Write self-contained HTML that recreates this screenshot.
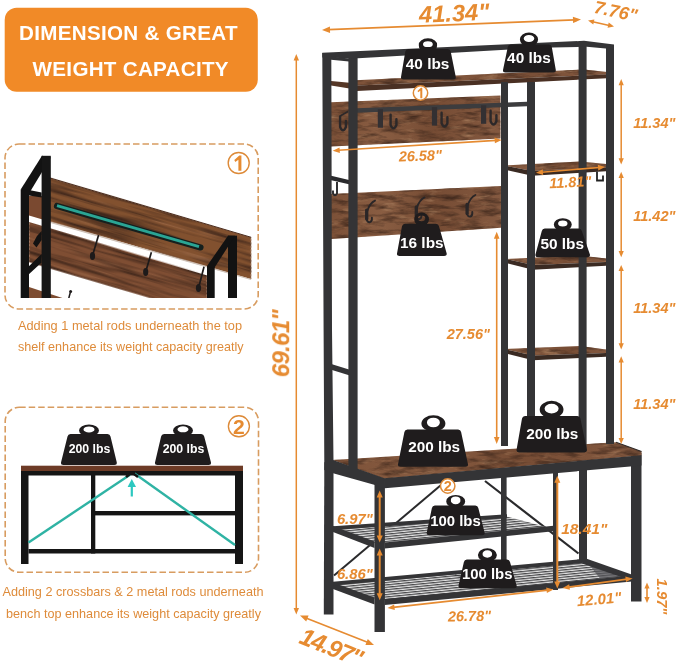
<!DOCTYPE html>
<html><head><meta charset="utf-8"><title>Dimension &amp; Great Weight Capacity</title>
<style>
html,body{margin:0;padding:0;background:#fff;}
body{width:679px;height:663px;overflow:hidden;font-family:"Liberation Sans",sans-serif;}
svg{display:block;}
svg text{font-family:"Liberation Sans",sans-serif;}
</style></head><body>
<svg width="679" height="663" viewBox="0 0 679 663">
<rect width="679" height="663" fill="#fff"/>
<g opacity="0.999">
<defs>
<filter id="grain" x="0" y="0" width="100%" height="100%" color-interpolation-filters="sRGB">
  <feTurbulence type="fractalNoise" baseFrequency="0.05 0.2" numOctaves="4" seed="7" result="n"/>
  <feColorMatrix in="n" type="matrix" values="0 0 0 0 0  0 0 0 0 0  0 0 0 0 0  2.3 0 0 0 -0.98" result="a"/>
  <feComposite in="a" in2="SourceGraphic" operator="in" result="g"/>
  <feFlood flood-color="#452c1f" result="f"/>
  <feComposite in="f" in2="g" operator="in" result="dk"/>
  <feColorMatrix in="n" type="matrix" values="0 0 0 0 0  0 0 0 0 0  0 0 0 0 0  0 -2.4 0 0 1.0" result="a2"/>
  <feComposite in="a2" in2="SourceGraphic" operator="in" result="g2"/>
  <feFlood flood-color="#a9805f" result="f2"/>
  <feComposite in="f2" in2="g2" operator="in" result="lt"/>
  <feMerge><feMergeNode in="SourceGraphic"/><feMergeNode in="lt"/><feMergeNode in="dk"/></feMerge>
</filter>
<filter id="grain2" x="0" y="0" width="100%" height="100%" color-interpolation-filters="sRGB">
  <feTurbulence type="fractalNoise" baseFrequency="0.012 0.22" numOctaves="3" seed="11" result="n"/>
  <feColorMatrix in="n" type="matrix" values="0 0 0 0 0  0 0 0 0 0  0 0 0 0 0  2.4 0 0 0 -1.0" result="a"/>
  <feComposite in="a" in2="SourceGraphic" operator="in" result="g"/>
  <feFlood flood-color="#40271b" result="f"/>
  <feComposite in="f" in2="g" operator="in" result="dk"/>
  <feColorMatrix in="n" type="matrix" values="0 0 0 0 0  0 0 0 0 0  0 0 0 0 0  0 -2.2 0 0 0.9" result="a2"/>
  <feComposite in="a2" in2="SourceGraphic" operator="in" result="g2"/>
  <feFlood flood-color="#a87452" result="f2"/>
  <feComposite in="f2" in2="g2" operator="in" result="lt"/>
  <feMerge><feMergeNode in="SourceGraphic"/><feMergeNode in="lt"/><feMergeNode in="dk"/></feMerge>
</filter>
<linearGradient id="wood" x1="0" y1="0" x2="1" y2="0">
  <stop offset="0" stop-color="#7c5138"/><stop offset="0.3" stop-color="#895d42"/><stop offset="0.6" stop-color="#764c34"/><stop offset="1" stop-color="#845940"/>
</linearGradient>
<linearGradient id="wood2" x1="0" y1="0" x2="1" y2="0">
  <stop offset="0" stop-color="#7d4c31"/><stop offset="0.4" stop-color="#8f5d3e"/><stop offset="0.7" stop-color="#774529"/><stop offset="1" stop-color="#875538"/>
</linearGradient>
<pattern id="mesh" width="6" height="2.4" patternUnits="userSpaceOnUse" patternTransform="rotate(-5.6)">
  <rect width="6" height="2.4" fill="#e4e4e4"/>
  <rect width="6" height="1.2" fill="#48484a"/>
</pattern>
</defs>
<rect x="4.7" y="7.8" width="253.1" height="84" rx="12" ry="12" fill="#F18A27"/>
<text x="19" y="39.8" font-size="20.6" font-weight="bold" fill="#fff" textLength="218.6" lengthAdjust="spacing">DIMENSION &amp; GREAT</text>
<text x="32.6" y="76.4" font-size="20.6" font-weight="bold" fill="#fff" textLength="196" lengthAdjust="spacing">WEIGHT CAPACITY</text>
<rect x="5" y="144" width="253.2" height="165" rx="14" ry="14" fill="none" stroke="#D89C60" stroke-width="1.6" stroke-dasharray="6.5 3"/>
<clipPath id="c1"><rect x="8" y="150" width="247" height="148"/></clipPath>
<g id="box1" clip-path="url(#c1)">
<g transform="rotate(16.4 29 222)"><polygon points="29.0,222.0 214.9,223.1 221.8,246.6 168.6,260.7 40.3,260.4" fill="#7f4e33" filter="url(#grain2)"/></g>
<polygon points="29.0,287.0 64.0,298.5 29.0,298.5" fill="#7d4c31" />
<g transform="rotate(16.4 46 176.8)"><polygon points="46.0,176.8 259.9,176.9 271.7,216.9 58.3,218.7" fill="#82512f" filter="url(#grain2)"/></g>
<polygon points="29.0,196.0 46.0,196.0 46.0,220.5 29.0,215.5" fill="#7a4930" />
<line x1="46.0" y1="176.8" x2="251.2" y2="237.3" stroke="#4a2c1e" stroke-width="1" />
<polygon points="46.0,220.5 251.0,279.0 251.0,280.0 46.0,221.8" fill="#cfc3ba" />
<line x1="57.0" y1="206.0" x2="200.5" y2="247.4" stroke="#15201e" stroke-width="6.2" stroke-linecap="round"/>
<line x1="57.0" y1="205.6" x2="199.0" y2="246.6" stroke="#2ba594" stroke-width="2.7" stroke-linecap="butt"/>
<line x1="98.6" y1="235.0" x2="93.3" y2="253.0" stroke="#1d1a1a" stroke-width="1.7" />
<ellipse cx="92.5" cy="256.0" rx="2.6" ry="3.9" fill="#1d1a1a"/>
<line x1="151.4" y1="252.3" x2="146.5" y2="269.0" stroke="#1d1a1a" stroke-width="1.7" />
<ellipse cx="145.7" cy="272.0" rx="2.6" ry="3.9" fill="#1d1a1a"/>
<line x1="204.0" y1="266.8" x2="199.3" y2="285.0" stroke="#1d1a1a" stroke-width="1.7" />
<ellipse cx="198.5" cy="288.0" rx="2.6" ry="3.9" fill="#1d1a1a"/>
<path d="M70.3,292.5 l-1.6,6" stroke="#1d1a1a" stroke-width="1.5"/><circle cx="70.6" cy="291.5" r="1.5" fill="#1d1a1a"/>
<polygon points="20.7,189.6 42.0,155.8 50.8,157.5 29.0,193.5" fill="#121212" />
<rect x="20.7" y="189.6" width="8.3" height="109.4" fill="#121212" />
<rect x="41.6" y="155.8" width="9.2" height="143.2" fill="#161616" />
<polygon points="29.0,190.0 41.6,192.5 41.6,197.5 29.0,195.5" fill="#121212" />
<polygon points="41.6,231.0 41.6,240.0 36.5,247.5 33.0,243.5 37.0,236.0" fill="#121212" />
<polygon points="41.6,254.0 41.6,262.5 27.5,275.5 25.0,270.0" fill="#121212" />
<rect x="228.0" y="235.7" width="9.0" height="63.3" fill="#121212" />
<rect x="207.0" y="266.0" width="7.7" height="33.0" fill="#121212" />
<polygon points="228.0,235.7 235.0,235.7 214.0,268.5 207.0,266.0" fill="#121212" />
</g>
<circle cx="238.7" cy="163.0" r="10.5" fill="#fff" stroke="#DD8A38" stroke-width="1.4"/>
<polygon points="241.4,155.4 241.4,170.7 238.4,170.7 238.4,159.8 235.3,162.0 234.3,160.0 239.3,155.4" fill="#E68B31" />
<text x="18" y="329.5" font-size="12.6" fill="#DE8B3A" textLength="224" lengthAdjust="spacingAndGlyphs">Adding 1 metal rods underneath the top</text>
<text x="18" y="351" font-size="12.6" fill="#DE8B3A" textLength="225.5" lengthAdjust="spacingAndGlyphs">shelf enhance its weight capacity greatly</text>
<rect x="5.2" y="407.3" width="253.3" height="165" rx="14" ry="14" fill="none" stroke="#D89C60" stroke-width="1.6" stroke-dasharray="6.5 3"/>
<g id="box2">
<rect x="21.0" y="470.5" width="222.0" height="5.0" fill="#151515" />
<rect x="21.0" y="466.0" width="7.5" height="98.0" fill="#151515" />
<rect x="235.0" y="466.0" width="8.0" height="98.0" fill="#151515" />
<rect x="91.0" y="475.0" width="4.3" height="78.5" fill="#151515" />
<rect x="28.5" y="549.0" width="206.5" height="4.5" fill="#151515" />
<rect x="95.0" y="511.0" width="140.0" height="4.4" fill="#151515" />
<rect x="21.0" y="465.7" width="222.0" height="5.3" fill="#6d3b26" />
<line x1="28.5" y1="542.6" x2="130.0" y2="474.7" stroke="#2fb3a4" stroke-width="2.4" />
<line x1="134.5" y1="473.5" x2="235.0" y2="545.0" stroke="#2fb3a4" stroke-width="2.4" />
<path d="M126,477 L132,472.5 L138,477" fill="none" stroke="#151515" stroke-width="2.6"/>
<line x1="131.8" y1="484.0" x2="131.8" y2="496.5" stroke="#2cc8c0" stroke-width="2.2" />
<polygon points="131.8,479.0 127.6,487.0 136.0,487.0" fill="#2cc8c0" />
<path d="M79.0,430.4 a10.0,5.9 0 1,0 20.0,0 a10.0,5.9 0 1,0 -20.0,0 Z M83.5,429.4 a5.5,3.0 0 1,0 11.0,0 a5.5,3.0 0 1,0 -11.0,0 Z" fill="#1f1c1d" fill-rule="evenodd"/>
<path d="M70.5,434.0 L107.5,434.0 Q110.0,434.0 110.5,436.5 L116.8,462.5 Q117.1,465.0 114.3,465.0 L63.5,465.0 Q60.7,465.0 61.0,462.5 L67.5,436.5 Q68.0,434.0 70.5,434.0 Z" fill="#1f1c1d"/>
<text x="89.5" y="453.2" font-size="12.3" font-weight="bold" fill="#fff" text-anchor="middle">200 lbs</text>
<path d="M173.0,430.4 a10.0,6.0 0 1,0 20.0,0 a10.0,6.0 0 1,0 -20.0,0 Z M177.5,429.3 a5.5,3.0 0 1,0 11.0,0 a5.5,3.0 0 1,0 -11.0,0 Z" fill="#1f1c1d" fill-rule="evenodd"/>
<path d="M164.1,434.0 L201.2,434.0 Q203.7,434.0 204.2,436.5 L211.0,462.5 Q211.3,465.0 208.5,465.0 L157.5,465.0 Q154.7,465.0 155.0,462.5 L161.1,436.5 Q161.6,434.0 164.1,434.0 Z" fill="#1f1c1d"/>
<text x="183.5" y="453.2" font-size="12.3" font-weight="bold" fill="#fff" text-anchor="middle">200 lbs</text>
</g>
<circle cx="238.9" cy="426.3" r="10.5" fill="#fff" stroke="#DD8A38" stroke-width="1.4"/>
<text x="238.9" y="433.9" font-size="21.1" font-weight="bold" fill="#E68B31" text-anchor="middle">2</text>
<text x="2.5" y="595.5" font-size="12.6" fill="#DE8B3A" textLength="261" lengthAdjust="spacingAndGlyphs">Adding 2 crossbars &amp; 2 metal rods underneath</text>
<text x="6" y="618" font-size="12.6" fill="#DE8B3A" textLength="255" lengthAdjust="spacingAndGlyphs">bench top enhance its weight capacity greatly</text>
<polygon points="331.0,102.2 500.5,95.6 500.5,138.5 331.0,146.5" fill="url(#wood)" filter="url(#grain)"/>
<polygon points="331.0,194.0 501.0,185.9 501.0,227.7 331.0,238.9" fill="url(#wood)" filter="url(#grain)"/>
<polygon points="504.0,165.5 580.0,161.5 606.0,164.0 606.0,167.5 532.0,171.0" fill="url(#wood)" filter="url(#grain)"/>
<polygon points="504.0,165.5 532.0,171.0 606.0,167.5 606.0,171.3 532.0,175.8 504.0,169.5" fill="#3a2a22" />
<polygon points="506.0,259.0 580.0,255.5 606.0,258.5 606.0,262.0 533.0,265.0" fill="url(#wood)" filter="url(#grain)"/>
<polygon points="506.0,259.0 533.0,265.0 606.0,262.0 606.0,265.8 533.0,269.8 506.0,263.0" fill="#3a2a22" />
<polygon points="504.0,349.0 580.0,346.0 606.0,349.5 606.0,353.0 533.0,355.5" fill="url(#wood)" filter="url(#grain)"/>
<polygon points="504.0,349.0 533.0,355.5 606.0,353.0 606.0,356.8 533.0,360.2 504.0,353.0" fill="#3a2a22" />
<polygon points="350.0,80.4 584.0,69.5 607.0,72.0 607.0,74.5 352.0,85.8" fill="url(#wood)" filter="url(#grain)"/>
<polygon points="352.0,85.8 607.0,74.5 607.0,78.2 352.0,91.3" fill="#4a3023" />
<polygon points="331.0,80.9 349.5,82.7 349.5,88.6 331.0,85.5" fill="#553726" />
<polygon points="357.0,108.3 527.0,101.8 527.0,106.2 357.0,112.7" fill="#3c3c3e" />
<path d="M340.1,116.5 l0,10.5 q2.9,6.5 5.8,0 l0,-6" fill="none" stroke="#2c2829" stroke-width="2.4" stroke-linecap="round"/>
<path d="M390.6,114.6 l0,10.5 q2.9,6.5 5.8,0 l0,-6" fill="none" stroke="#2c2829" stroke-width="2.4" stroke-linecap="round"/>
<path d="M441.6,112.7 l0,10.5 q2.9,6.5 5.8,0 l0,-6" fill="none" stroke="#2c2829" stroke-width="2.4" stroke-linecap="round"/>
<path d="M490.6,110.8 l0,10.5 q2.9,6.5 5.8,0 l0,-6" fill="none" stroke="#2c2829" stroke-width="2.4" stroke-linecap="round"/>
<path d="M340.1,116 L348,111.5" stroke="#2c2829" stroke-width="1.8"/>
<rect x="377.8" y="109.2" width="5.2" height="18.5" fill="#333032"/>
<rect x="431.9" y="107.1" width="5.2" height="18.5" fill="#333032"/>
<rect x="481.0" y="105.3" width="5.2" height="18.5" fill="#333032"/>
<path d="M375.0,200.6 Q370.0,202.8 367.2,211.1" fill="none" stroke="#2a2627" stroke-width="1.9" stroke-linecap="round"/>
<path d="M366.7,210.1 L366.7,219.1" fill="none" stroke="#2a2627" stroke-width="3.3" stroke-linecap="round"/>
<path d="M366.7,218.6 q0.3,4 3.2,3.6 q2.4,-0.6 2,-4.6" fill="none" stroke="#2a2627" stroke-width="1.9" stroke-linecap="round"/>
<path d="M424.6,197.4 Q419.6,199.6 416.8,207.9" fill="none" stroke="#2a2627" stroke-width="1.9" stroke-linecap="round"/>
<path d="M416.3,206.9 L416.3,215.9" fill="none" stroke="#2a2627" stroke-width="3.3" stroke-linecap="round"/>
<path d="M416.3,215.4 q0.3,4 3.2,3.6 q2.4,-0.6 2,-4.6" fill="none" stroke="#2a2627" stroke-width="1.9" stroke-linecap="round"/>
<path d="M475.4,195.0 Q470.4,197.2 467.6,205.5" fill="none" stroke="#2a2627" stroke-width="1.9" stroke-linecap="round"/>
<path d="M467.1,204.5 L467.1,213.5" fill="none" stroke="#2a2627" stroke-width="3.3" stroke-linecap="round"/>
<path d="M467.1,213.0 q0.3,4 3.2,3.6 q2.4,-0.6 2,-4.6" fill="none" stroke="#2a2627" stroke-width="1.9" stroke-linecap="round"/>
<polygon points="328.0,175.0 349.0,180.0 349.0,184.2 328.0,179.5" fill="#2a2a2c" />
<path d="M337,182 l0,11.5 q-2,3.5 -4,0 l0,-3" fill="none" stroke="#2a2a2c" stroke-width="1.9"/>
<path d="M597,171.5 l0,9 l6,0 l0,-5" fill="none" stroke="#222" stroke-width="1.8"/>
<line x1="444.0" y1="482.5" x2="334.0" y2="575.5" stroke="#2a2a2c" stroke-width="2.0" />
<line x1="485.0" y1="481.0" x2="578.5" y2="553.5" stroke="#2a2a2c" stroke-width="2.2" />
<polygon points="334.0,528.0 507.0,516.5 548.0,527.5 385.0,543.0 374.0,542.0" fill="url(#mesh)" />
<polygon points="334.0,584.0 587.0,561.0 632.0,576.5 385.0,600.0 374.0,598.5" fill="url(#mesh)" />
<polygon points="587.0,562.0 625.0,576.0 600.0,578.5" fill="#55555a" opacity="0.75"/>
<line x1="455.0" y1="575.0" x2="520.0" y2="588.0" stroke="#3a3a3c" stroke-width="1.2" />
<polygon points="384.7,542.4 556.0,525.5 556.0,531.0 384.7,548.4" fill="#343436" />
<polygon points="333.0,526.0 374.5,541.5 374.5,548.0 333.0,532.0" fill="#343436" />
<polygon points="333.0,526.2 507.0,514.2 507.0,518.0 333.0,530.0" fill="#343436" />
<polygon points="384.7,599.0 632.0,575.6 632.0,581.5 384.7,605.0" fill="#343436" />
<polygon points="333.0,582.5 374.5,597.5 374.5,604.5 333.0,589.0" fill="#343436" />
<polygon points="333.0,581.8 587.0,558.6 587.0,562.6 333.0,585.6" fill="#343436" />
<polygon points="586.0,558.6 633.0,575.0 633.0,581.0 582.0,563.5" fill="#343436" />
<polygon points="324.3,462.0 333.5,462.0 333.5,614.5 323.8,614.5" fill="#343436" />
<rect x="374.5" y="479.0" width="10.4" height="153.0" fill="#343436" />
<rect x="501.0" y="474.0" width="5.6" height="93.5" fill="#343436" />
<rect x="553.0" y="470.0" width="5.0" height="120.0" fill="#343436" />
<rect x="579.0" y="469.0" width="8.0" height="92.5" fill="#343436" />
<rect x="631.0" y="453.0" width="10.5" height="148.5" fill="#343436" />
<polygon points="332.6,460.0 616.0,442.3 641.5,451.5 641.5,455.5 384.0,478.8" fill="url(#wood)" filter="url(#grain)"/>
<line x1="616.0" y1="442.3" x2="641.5" y2="451.5" stroke="#2f2a28" stroke-width="1.2" />
<polygon points="384.0,478.3 641.5,455.2 641.5,465.5 385.0,488.3" fill="#343436" />
<polygon points="324.3,462.2 333.0,460.0 384.5,478.3 385.0,488.3 375.0,485.0 334.0,473.5 324.3,470.0" fill="#343436" />
<polygon points="322.3,53.0 331.3,53.0 332.0,330.0 333.5,462.0 324.3,462.0 323.6,330.0" fill="#343436" />
<rect x="348.4" y="56.0" width="9.2" height="414.0" fill="#343436" />
<rect x="501.0" y="82.0" width="7.0" height="364.0" fill="#343436" />
<rect x="527.0" y="82.0" width="8.0" height="369.0" fill="#343436" />
<rect x="578.6" y="44.0" width="8.0" height="407.0" fill="#343436" />
<rect x="606.0" y="45.0" width="8.0" height="399.0" fill="#343436" />
<polygon points="328.0,363.0 349.0,369.5 349.0,375.2 328.0,368.7" fill="#343436" />
<polygon points="322.3,52.8 584.0,40.8 614.0,44.6 614.0,49.2 586.6,46.8 540.0,47.8 358.0,58.2 349.0,58.5 331.0,57.4 322.3,57.4" fill="#343436" />
<polygon points="331.0,56.5 349.0,58.5 349.0,61.5 331.0,59.8" fill="#343436" />
<path d="M418.8,45.2 a9.2,6.2 0 1,0 18.3,0 a9.2,6.2 0 1,0 -18.3,0 Z M423.0,44.2 a4.9,2.9 0 1,0 9.8,0 a4.9,2.9 0 1,0 -9.8,0 Z" fill="#1f1c1d" fill-rule="evenodd"/>
<path d="M408.3,49.1 L447.7,49.1 Q450.2,49.1 450.7,51.6 L455.8,77.0 Q456.1,79.5 453.3,79.5 L403.5,79.5 Q400.7,79.5 401.0,77.0 L405.3,51.6 Q405.8,49.1 408.3,49.1 Z" fill="#1f1c1d"/>
<text x="427.6" y="69.4" font-size="15.4" font-weight="bold" fill="#fff" text-anchor="middle">40 lbs</text>
<path d="M519.9,39.6 a9.1,7.2 0 1,0 18.2,0 a9.1,7.2 0 1,0 -18.2,0 Z M523.7,38.6 a5.3,3.5 0 1,0 10.6,0 a5.3,3.5 0 1,0 -10.6,0 Z" fill="#1f1c1d" fill-rule="evenodd"/>
<path d="M510.8,44.4 L548.8,44.4 Q551.3,44.4 551.8,46.9 L555.8,69.9 Q556.1,72.4 553.3,72.4 L505.5,72.4 Q502.7,72.4 503.0,69.9 L507.8,46.9 Q508.3,44.4 510.8,44.4 Z" fill="#1f1c1d"/>
<text x="528.9" y="62.7" font-size="15.4" font-weight="bold" fill="#fff" text-anchor="middle">40 lbs</text>
<path d="M414.2,219.3 a7.4,6.8 0 1,0 14.8,0 a7.4,6.8 0 1,0 -14.8,0 Z M418.0,218.3 a3.6,2.8 0 1,0 7.3,0 a3.6,2.8 0 1,0 -7.3,0 Z" fill="#1f1c1d" fill-rule="evenodd"/>
<path d="M405.0,223.7 L436.0,223.7 Q438.5,223.7 439.0,226.2 L446.7,253.5 Q447.0,256.0 444.2,256.0 L399.5,256.0 Q396.7,256.0 397.0,253.5 L402.0,226.2 Q402.5,223.7 405.0,223.7 Z" fill="#1f1c1d"/>
<text x="421.8" y="248.2" font-size="15.4" font-weight="bold" fill="#fff" text-anchor="middle">16 lbs</text>
<path d="M553.8,224.6 a9.0,6.4 0 1,0 18.0,0 a9.0,6.4 0 1,0 -18.0,0 Z M558.1,223.6 a4.7,3.0 0 1,0 9.4,0 a4.7,3.0 0 1,0 -9.4,0 Z" fill="#1f1c1d" fill-rule="evenodd"/>
<path d="M544.8,228.6 L578.8,228.6 Q581.3,228.6 581.8,231.1 L590.0,254.7 Q590.3,257.2 587.5,257.2 L537.9,257.2 Q535.1,257.2 535.4,254.7 L541.8,231.1 Q542.3,228.6 544.8,228.6 Z" fill="#1f1c1d"/>
<text x="562.2" y="249.3" font-size="15.4" font-weight="bold" fill="#fff" text-anchor="middle">50 lbs</text>
<path d="M421.4,423.5 a12.0,8.3 0 1,0 24.0,0 a12.0,8.3 0 1,0 -24.0,0 Z M426.9,422.5 a6.5,4.8 0 1,0 13.0,0 a6.5,4.8 0 1,0 -13.0,0 Z" fill="#1f1c1d" fill-rule="evenodd"/>
<path d="M407.4,429.4 L458.1,429.4 Q460.6,429.4 461.1,431.9 L468.0,464.3 Q468.3,466.8 465.5,466.8 L400.5,466.8 Q397.7,466.8 398.0,464.3 L404.4,431.9 Q404.9,429.4 407.4,429.4 Z" fill="#1f1c1d"/>
<text x="434.2" y="452.0" font-size="15.3" font-weight="bold" fill="#fff" text-anchor="middle">200 lbs</text>
<path d="M539.7,409.6 a11.9,8.8 0 1,0 23.8,0 a11.9,8.8 0 1,0 -23.8,0 Z M544.6,408.6 a7.0,4.9 0 1,0 14.0,0 a7.0,4.9 0 1,0 -14.0,0 Z" fill="#1f1c1d" fill-rule="evenodd"/>
<path d="M525.0,416.0 L577.4,416.0 Q579.9,416.0 580.4,418.5 L586.9,449.9 Q587.2,452.4 584.4,452.4 L519.0,452.4 Q516.2,452.4 516.5,449.9 L522.0,418.5 Q522.5,416.0 525.0,416.0 Z" fill="#1f1c1d"/>
<text x="552.3" y="439.2" font-size="15.3" font-weight="bold" fill="#fff" text-anchor="middle">200 lbs</text>
<path d="M446.2,501.4 a9.5,6.5 0 1,0 19.0,0 a9.5,6.5 0 1,0 -19.0,0 Z M450.9,500.3 a4.8,3.4 0 1,0 9.5,0 a4.8,3.4 0 1,0 -9.5,0 Z" fill="#1f1c1d" fill-rule="evenodd"/>
<path d="M434.9,505.5 L475.3,505.5 Q477.8,505.5 478.3,508.0 L484.7,532.7 Q485.0,535.2 482.2,535.2 L429.2,535.2 Q426.4,535.2 426.7,532.7 L431.9,508.0 Q432.4,505.5 434.9,505.5 Z" fill="#1f1c1d"/>
<text x="455.5" y="525.9" font-size="14.9" font-weight="bold" fill="#fff" text-anchor="middle">100 lbs</text>
<path d="M477.9,555.0 a9.5,6.8 0 1,0 19.0,0 a9.5,6.8 0 1,0 -19.0,0 Z M482.6,554.0 a4.8,3.2 0 1,0 9.5,0 a4.8,3.2 0 1,0 -9.5,0 Z" fill="#1f1c1d" fill-rule="evenodd"/>
<path d="M466.9,559.4 L507.0,559.4 Q509.5,559.4 510.0,561.9 L516.7,585.8 Q517.0,588.3 514.2,588.3 L461.0,588.3 Q458.2,588.3 458.5,585.8 L463.9,561.9 Q464.4,559.4 466.9,559.4 Z" fill="#1f1c1d"/>
<text x="487.2" y="578.8" font-size="14.9" font-weight="bold" fill="#fff" text-anchor="middle">100 lbs</text>
<circle cx="420.5" cy="93.0" r="7.2" fill="#fff" stroke="#DD8A38" stroke-width="1.5"/>
<polygon points="422.3,87.8 422.3,98.3 420.3,98.3 420.3,90.8 418.2,92.3 417.5,91.0 420.9,87.8" fill="#E68B31" />
<circle cx="447.7" cy="486.0" r="7.2" fill="#fff" stroke="#DD8A38" stroke-width="1.5"/>
<text x="447.7" y="491.2" font-size="14.5" font-weight="bold" fill="#E68B31" text-anchor="middle">2</text>
<line x1="328.4" y1="29.7" x2="574.6" y2="19.9" stroke="#E68B31" stroke-width="1.7" />
<polygon points="581.0,19.6 573.1,23.1 572.9,16.7" fill="#E68B31" />
<polygon points="322.0,30.0 330.1,32.9 329.9,26.5" fill="#E68B31" />
<text x="454.5" y="21.3" font-size="23.7" font-weight="bold" font-style="italic" fill="#E68B31" text-anchor="middle" transform="rotate(-2.3 454.5 21.3)">41.34"</text>
<line x1="592.7" y1="21.7" x2="609.3" y2="25.4" stroke="#E68B31" stroke-width="1.5" />
<polygon points="614.0,26.5 607.6,27.7 608.7,22.6" fill="#E68B31" />
<polygon points="588.0,20.6 593.3,24.5 594.4,19.4" fill="#E68B31" />
<text x="614.5" y="17.3" font-size="18" font-weight="bold" font-style="italic" fill="#E68B31" text-anchor="middle" transform="rotate(12 614.5 17.3)">7.76"</text>
<line x1="296.3" y1="59.2" x2="296.3" y2="609.3" stroke="#E68B31" stroke-width="1.5" />
<polygon points="296.3,614.5 293.6,608.0 299.0,608.0" fill="#E68B31" />
<polygon points="296.3,54.0 293.6,60.5 299.0,60.5" fill="#E68B31" />
<text x="288.7" y="343.5" font-size="24" font-weight="bold" font-style="italic" fill="#E68B31" text-anchor="middle" letter-spacing="-0.7" transform="rotate(-90 288.7 343.5)">69.61"</text>
<line x1="305.9" y1="617.9" x2="368.1" y2="642.6" stroke="#E68B31" stroke-width="1.6" />
<polygon points="374.0,645.0 365.4,645.0 367.8,639.1" fill="#E68B31" />
<polygon points="300.0,615.5 306.2,621.4 308.6,615.5" fill="#E68B31" />
<text x="327.8" y="654.8" font-size="24.3" font-weight="bold" font-style="italic" fill="#E68B31" text-anchor="middle" letter-spacing="-1.3" transform="rotate(22 327.8 654.8)">14.97"</text>
<line x1="338.3" y1="150.3" x2="496.1" y2="140.4" stroke="#E68B31" stroke-width="1.6" />
<polygon points="501.7,140.0 494.9,143.2 494.5,137.6" fill="#E68B31" />
<polygon points="332.7,150.7 339.9,153.1 339.5,147.5" fill="#E68B31" />
<text x="420.5" y="160.8" font-size="14.5" font-weight="bold" font-style="italic" fill="#E68B31" text-anchor="middle" transform="rotate(-2 420.5 160.8)">26.58"</text>
<line x1="541.6" y1="172.2" x2="599.4" y2="167.5" stroke="#E68B31" stroke-width="1.6" />
<polygon points="605.0,167.0 598.3,170.4 597.8,164.8" fill="#E68B31" />
<polygon points="536.0,172.7 543.2,174.9 542.7,169.3" fill="#E68B31" />
<text x="570.5" y="187.2" font-size="14.5" font-weight="bold" font-style="italic" fill="#E68B31" text-anchor="middle" transform="rotate(-3 570.5 187.2)">11.81"</text>
<line x1="621.2" y1="84.0" x2="621.2" y2="159.4" stroke="#E68B31" stroke-width="1.5" />
<polygon points="621.2,164.4 618.6,158.2 623.8,158.2" fill="#E68B31" />
<polygon points="621.2,79.0 618.6,85.2 623.8,85.2" fill="#E68B31" />
<line x1="621.2" y1="176.8" x2="621.2" y2="252.3" stroke="#E68B31" stroke-width="1.5" />
<polygon points="621.2,257.3 618.6,251.1 623.8,251.1" fill="#E68B31" />
<polygon points="621.2,171.8 618.6,178.0 623.8,178.0" fill="#E68B31" />
<line x1="621.2" y1="269.9" x2="621.2" y2="344.5" stroke="#E68B31" stroke-width="1.5" />
<polygon points="621.2,349.5 618.6,343.3 623.8,343.3" fill="#E68B31" />
<polygon points="621.2,264.9 618.6,271.1 623.8,271.1" fill="#E68B31" />
<line x1="621.2" y1="361.2" x2="621.2" y2="439.1" stroke="#E68B31" stroke-width="1.5" />
<polygon points="621.2,444.1 618.6,437.9 623.8,437.9" fill="#E68B31" />
<polygon points="621.2,356.2 618.6,362.4 623.8,362.4" fill="#E68B31" />
<text x="654.3" y="128.2" font-size="14.5" font-weight="bold" font-style="italic" fill="#E68B31" text-anchor="middle">11.34"</text>
<text x="654.3" y="220.7" font-size="14.5" font-weight="bold" font-style="italic" fill="#E68B31" text-anchor="middle">11.42"</text>
<text x="654.3" y="313.2" font-size="14.5" font-weight="bold" font-style="italic" fill="#E68B31" text-anchor="middle">11.34"</text>
<text x="654.3" y="409.0" font-size="14.5" font-weight="bold" font-style="italic" fill="#E68B31" text-anchor="middle">11.34"</text>
<line x1="496.7" y1="237.3" x2="496.7" y2="438.4" stroke="#E68B31" stroke-width="1.6" />
<polygon points="496.7,444.0 493.9,437.0 499.5,437.0" fill="#E68B31" />
<polygon points="496.7,231.7 493.9,238.7 499.5,238.7" fill="#E68B31" />
<text x="468.3" y="338.8" font-size="14.5" font-weight="bold" font-style="italic" fill="#E68B31" text-anchor="middle">27.56"</text>
<line x1="379.7" y1="496.1" x2="379.7" y2="536.8" stroke="#E68B31" stroke-width="2" />
<polygon points="379.7,542.4 376.7,535.4 382.7,535.4" fill="#E68B31" />
<polygon points="379.7,490.5 376.7,497.5 382.7,497.5" fill="#E68B31" />
<line x1="379.7" y1="554.0" x2="379.7" y2="594.7" stroke="#E68B31" stroke-width="2" />
<polygon points="379.7,600.3 376.7,593.3 382.7,593.3" fill="#E68B31" />
<polygon points="379.7,548.4 376.7,555.4 382.7,555.4" fill="#E68B31" />
<text x="354.8" y="524.3" font-size="14.8" font-weight="bold" font-style="italic" fill="#E68B31" text-anchor="middle">6.97"</text>
<text x="354.8" y="578.6" font-size="14.8" font-weight="bold" font-style="italic" fill="#E68B31" text-anchor="middle">6.86"</text>
<line x1="557.3" y1="481.3" x2="557.3" y2="582.9" stroke="#E68B31" stroke-width="2" />
<polygon points="557.3,588.5 554.3,581.5 560.3,581.5" fill="#E68B31" />
<polygon points="557.3,475.7 554.3,482.7 560.3,482.7" fill="#E68B31" />
<text x="584.2" y="534.0" font-size="15.5" font-weight="bold" font-style="italic" fill="#E68B31" text-anchor="middle">18.41"</text>
<line x1="393.1" y1="607.4" x2="547.9" y2="590.1" stroke="#E68B31" stroke-width="1.8" />
<polygon points="553.5,589.5 546.9,593.1 546.2,587.5" fill="#E68B31" />
<polygon points="387.5,608.0 394.8,610.0 394.1,604.4" fill="#E68B31" />
<text x="469.5" y="621.0" font-size="14.5" font-weight="bold" font-style="italic" fill="#E68B31" text-anchor="middle" transform="rotate(-1 469.5 621.0)">26.78"</text>
<line x1="568.1" y1="587.2" x2="627.1" y2="579.2" stroke="#E68B31" stroke-width="1.8" />
<polygon points="632.6,578.4 626.0,582.1 625.3,576.6" fill="#E68B31" />
<polygon points="562.6,588.0 569.9,589.8 569.2,584.3" fill="#E68B31" />
<text x="599.5" y="604.3" font-size="15" font-weight="bold" font-style="italic" fill="#E68B31" text-anchor="middle" transform="rotate(-5 599.5 604.3)">12.01"</text>
<line x1="647.0" y1="587.4" x2="647.0" y2="598.2" stroke="#E68B31" stroke-width="1.6" />
<polygon points="647.0,603.0 644.4,597.0 649.6,597.0" fill="#E68B31" />
<polygon points="647.0,582.6 644.4,588.6 649.6,588.6" fill="#E68B31" />
<text x="656.8" y="596.5" font-size="14.8" font-weight="bold" font-style="italic" fill="#E68B31" text-anchor="middle" transform="rotate(90 656.8 596.5)">1.97"</text>
</g>
</svg>
</body></html>
